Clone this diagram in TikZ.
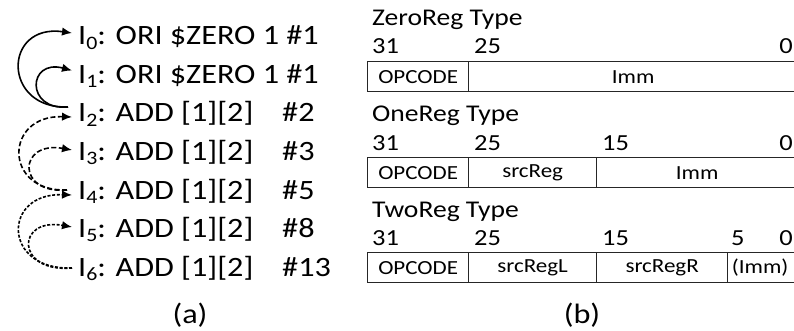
\documentclass[tikz,border=0pt]{standalone}
\usepackage{fontspec}
\setmainfont{Carlito}[FakeStretch=1.15]
\usetikzlibrary{arrows.meta}

% instruction list text
\newcommand\ilabel[1]{I\raisebox{-0.32ex}{\fontsize{19}{19}\selectfont #1}}
\newcommand\iline[3]{\makebox[204pt][l]{\ilabel{#1}: #2}\##3}

\tikzset{
  instr/.style={anchor=base west, inner sep=0pt, font=\fontsize{28}{30}\selectfont},
  small/.style={inner sep=0pt, font=\fontsize{23}{25}\selectfont},
  title/.style={inner sep=0pt, anchor=base west, font=\fontsize{24}{26}\selectfont},
  bitno/.style={small, anchor=base west},
  caption/.style={inner sep=0pt, anchor=base, font=\fontsize{28}{30}\selectfont},
  cell/.style={draw=black!85, line width=1.3pt, anchor=north west, minimum height=30pt,
               inner sep=0pt, font=\fontsize{20}{22}\selectfont},
  dep/.style={line width=1.6pt, -{Latex[length=10pt,width=8.5pt]}},
  depdash/.style={dep, dash pattern=on 5pt off 2.5pt},
  depdot/.style={dep, dash pattern=on 3pt off 1.7pt},
}

\begin{document}
\begin{tikzpicture}[x=1pt, y=1pt]
\useasboundingbox (0,0) rectangle (794,-331);
\clip (0,0) rectangle (794,-331);

% ---- (a) instruction sequence ----
\node[instr] (I0) at (78,-45)    {\ilabel{0}: ORI \$ZERO 1 \#1};
\node[instr] (I1) at (78,-83.5)  {\ilabel{1}: ORI \$ZERO 1 \#1};
\node[instr] (I2) at (78,-122)   {\iline{2}{ADD [1][2]}{2}};
\node[instr] (I3) at (78,-160.5) {\iline{3}{ADD [1][2]}{3}};
\node[instr] (I4) at (78,-199)   {\iline{4}{ADD [1][2]}{5}};
\node[instr] (I5) at (78,-237.5) {\iline{5}{ADD [1][2]}{8}};
\node[instr] (I6) at (78,-276)   {\iline{6}{ADD [1][2]}{13}};

\coordinate (s2) at ([shift={(-10,15)}]I2.base west);
\coordinate (s4) at ([shift={(-11,9)}]I4.base west);
\coordinate (s6) at ([shift={(-6,8)}]I6.base west);
\coordinate (t0) at ([shift={(-6,12)}]I0.base west);
\coordinate (t1) at ([shift={(-6,13)}]I1.base west);
\coordinate (t2) at ([shift={(-6,5)}]I2.base west);
\coordinate (t3) at ([shift={(-6,10.5)}]I3.base west);
\coordinate (t4) at ([shift={(-6,4)}]I4.base west);
\coordinate (t5) at ([shift={(-6,10.5)}]I5.base west);

\draw[dep] (s2) to[out=182, in=172, out distance=66, in distance=70] (t0);
\draw[dep] (s2) to[out=185, in=165, out distance=43, in distance=46] (t1);
\draw[depdash] (s4) to[out=182, in=178, out distance=64, in distance=68] (t2);
\draw[depdash] (s4) to[out=185, in=170, out distance=51, in distance=55] (t3);
\draw[depdot] (s6) to[out=182, in=178, out distance=70, in distance=70] (t4);
\draw[depdot] (s6) to[out=185, in=170, out distance=57, in distance=57] (t5);

\node[caption] (capa) at (190,-323) {(a)};

% ---- (b) instruction formats ----
% ZeroReg
\node[title] (zt) at (372,-26) {ZeroReg Type};
\node[bitno] (z31) at (372,-54) {31};
\node[bitno] (z25) at (474,-54) {25};
\node[small, anchor=base east] (z0) at (793,-54) {0};
\node[cell, minimum width=101pt] (zop) at (367,-61) {OPCODE};
\node[cell, minimum width=329pt] (zimm) at (468,-61) {Imm};

% OneReg
\node[title] (ot) at (372,-122) {OneReg Type};
\node[bitno] (o31) at (372,-150) {31};
\node[bitno] (o25) at (474,-150) {25};
\node[bitno] (o15) at (602,-150) {15};
\node[small, anchor=base east] (o0) at (793,-150) {0};
\node[cell, minimum width=101pt] (oop) at (367,-157) {OPCODE};
\node[cell, minimum width=128pt] (oreg) at (468,-157) {srcReg};
\node[cell, minimum width=201pt] (oimm) at (596,-157) {Imm};

% TwoReg
\node[title] (tt) at (372,-217) {TwoReg Type};
\node[bitno] (t31) at (372,-245) {31};
\node[bitno] (t25) at (474,-245) {25};
\node[bitno] (t15) at (602,-245) {15};
\node[bitno] (t5b) at (731,-245) {5};
\node[small, anchor=base east] (t0b) at (793,-245) {0};
\node[cell, minimum width=101pt] (top) at (367,-252) {OPCODE};
\node[cell, minimum width=128pt] (tregl) at (468,-252) {srcRegL};
\node[cell, minimum width=131pt] (tregr) at (596,-252) {srcRegR};
\node[cell, minimum width=70pt] (timm) at (727,-252) {(Imm)\hspace*{5pt}};

\node[caption] (capb) at (582,-323) {(b)};
\end{tikzpicture}
\end{document}
